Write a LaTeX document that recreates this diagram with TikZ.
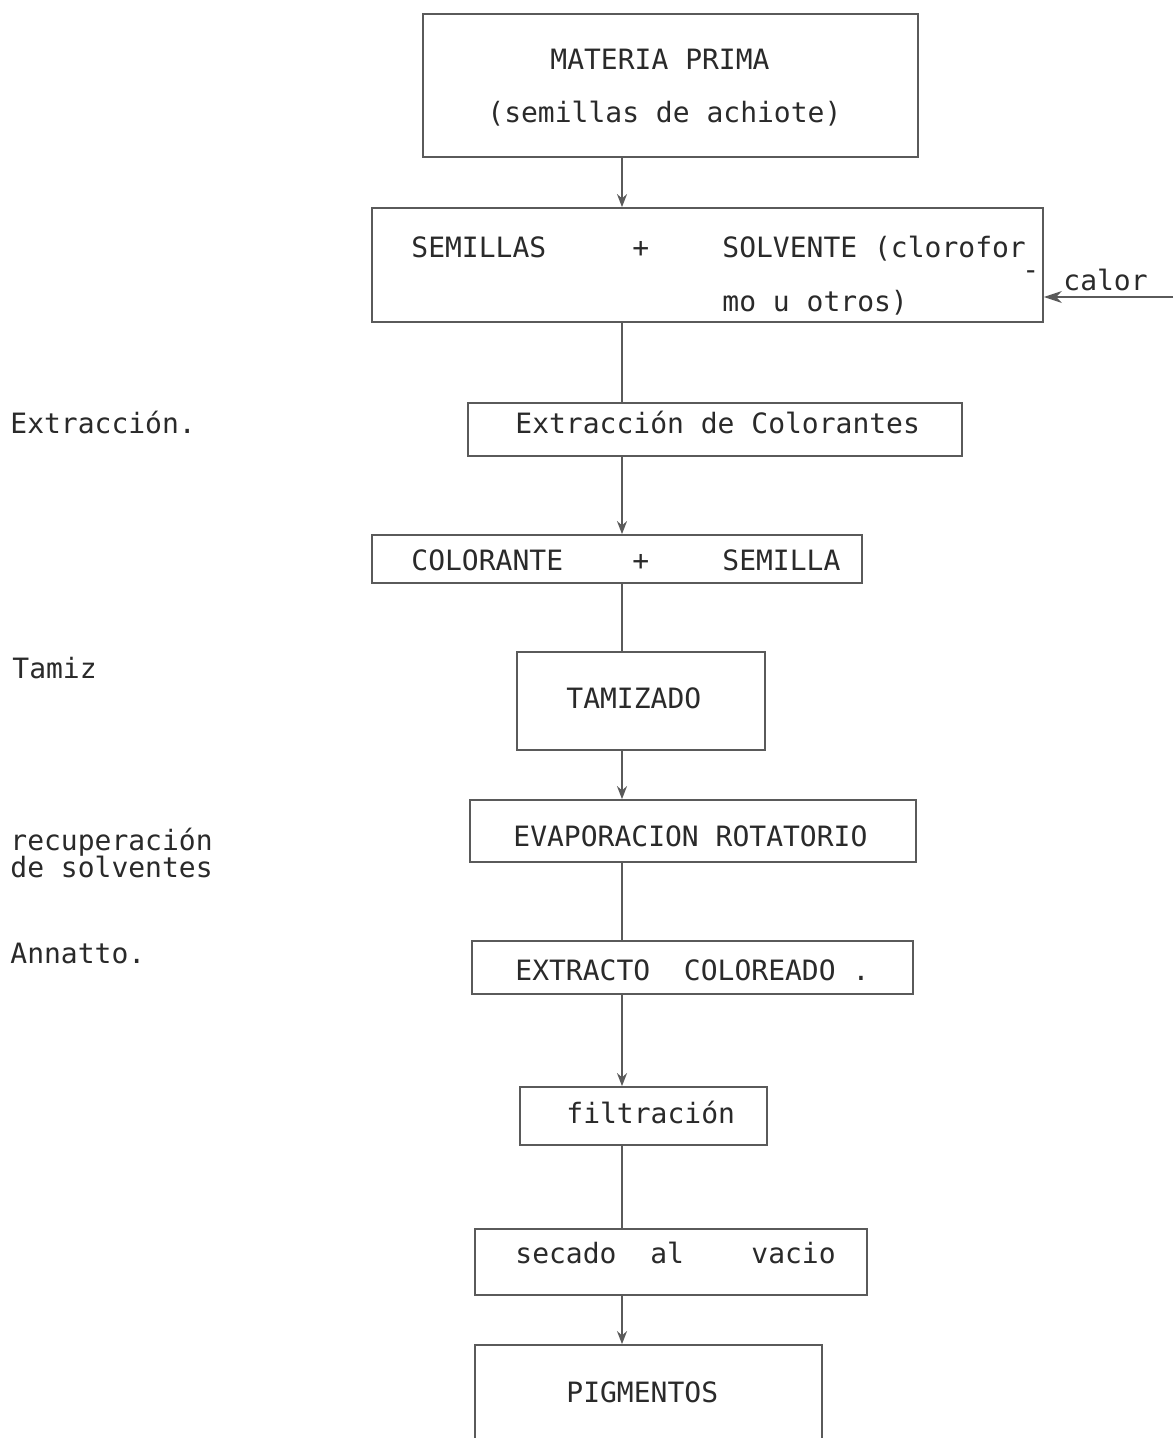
\documentclass[tikz,border=0pt]{standalone}
\usepackage{fontspec}
\newfontfamily\tw{DejaVu Sans Mono}
\usetikzlibrary{arrows.meta}
\definecolor{ink}{HTML}{2A2A2A}
\definecolor{rule}{HTML}{5A5A5A}
\begin{document}
\begin{tikzpicture}[x=0.5pt,y=-0.5pt,
  box/.style={draw=rule, line width=0.9pt, rectangle, inner sep=0pt},
  txt/.style={anchor=base west, inner sep=0pt, text=ink, font=\tw\fontsize{14pt}{16pt}\selectfont},
  flow/.style={draw=rule, line width=0.9pt},
  flowar/.style={flow, -{Stealth[length=6.5pt,width=5pt]}}]
\useasboundingbox[fill=white] (0,0) rectangle (1173,1438);
\coordinate (ax) at (622,0);
% boxes
\node[box, minimum width=247.5pt, minimum height=71.5pt] (b1) at (670.5,85.5) {};
\node[box, minimum width=335.5pt, minimum height=57pt] (b2) at (707.5,265) {};
\node[box, minimum width=247pt, minimum height=26.5pt] (b3) at (715,429.5) {};
\node[box, minimum width=245pt, minimum height=24pt] (b4) at (617,559) {};
\node[box, minimum width=124pt, minimum height=49pt] (b5) at (641,701) {};
\node[box, minimum width=223pt, minimum height=31pt] (b6) at (693,831) {};
\node[box, minimum width=220.5pt, minimum height=26.5pt] (b7) at (692.5,967.5) {};
\node[box, minimum width=123.5pt, minimum height=29pt] (b8) at (643.5,1116) {};
\node[box, minimum width=196pt, minimum height=33pt] (b9) at (671,1262) {};
\node[box, minimum width=173.5pt, minimum height=60pt] (b10) at (648.5,1405) {};
% texts
\node[txt] (t1a) at (550,70) {MATERIA PRIMA};
\node[txt] (t1b) at (487,123) {(semillas de achiote)};
\node[txt] (t2a) at (411,258) {SEMILLAS};
\node[txt] (t2p) at (632,258) {+};
\node[txt] (t2b) at (722,258) {SOLVENTE (clorofor};
\node[txt] (t2h) at (1022,280) {-};
\node[txt] (t2c) at (722,312) {mo u otros)};
\node[txt] (t3) at (515,434) {Extracción de Colorantes};
\node[txt] (t4a) at (411,570) {COLORANTE};
\node[txt] (t4p) at (632,570) {+};
\node[txt] (t4b) at (722,570) {SEMILLA};
\node[txt] (t5) at (566,708) {TAMIZADO};
\node[txt] (t6) at (513,846) {EVAPORACION ROTATORIO};
\node[txt] (t7) at (515,980) {EXTRACTO\ \ COLOREADO .};
\node[txt] (t8) at (566,1123) {filtración};
\node[txt] (t9) at (515,1263) {secado\ \ al\ \ \ \ vacio};
\node[txt] (t10) at (566,1402) {PIGMENTOS};
% side labels
\node[txt] (l1) at (10,434) {Extracción.};
\node[txt] (l2) at (12,678) {Tamiz};
\node[txt] (l3) at (10,850) {recuperación};
\node[txt] (l4) at (10,877) {de solventes};
\node[txt] (l5) at (10,963) {Annatto.};
% calor
\coordinate (cin) at (1173,297);
\node[txt] (tc) at (1063,291) {calor};
\draw[flow, -{Stealth[length=9pt,width=6pt]}] (cin) -- (b2.east |- cin);
% connectors
\draw[flowar] (b1.south -| ax) -- (b2.north -| ax);
\draw[flow] (b2.south -| ax) -- (b3.north -| ax);
\draw[flowar] (b3.south -| ax) -- (b4.north -| ax);
\draw[flow] (b4.south -| ax) -- (b5.north -| ax);
\draw[flowar] (b5.south -| ax) -- (b6.north -| ax);
\draw[flow] (b6.south -| ax) -- (b7.north -| ax);
\draw[flowar] (b7.south -| ax) -- (b8.north -| ax);
\draw[flow] (b8.south -| ax) -- (b9.north -| ax);
\draw[flowar] (b9.south -| ax) -- (b10.north -| ax);
\end{tikzpicture}
\end{document}
